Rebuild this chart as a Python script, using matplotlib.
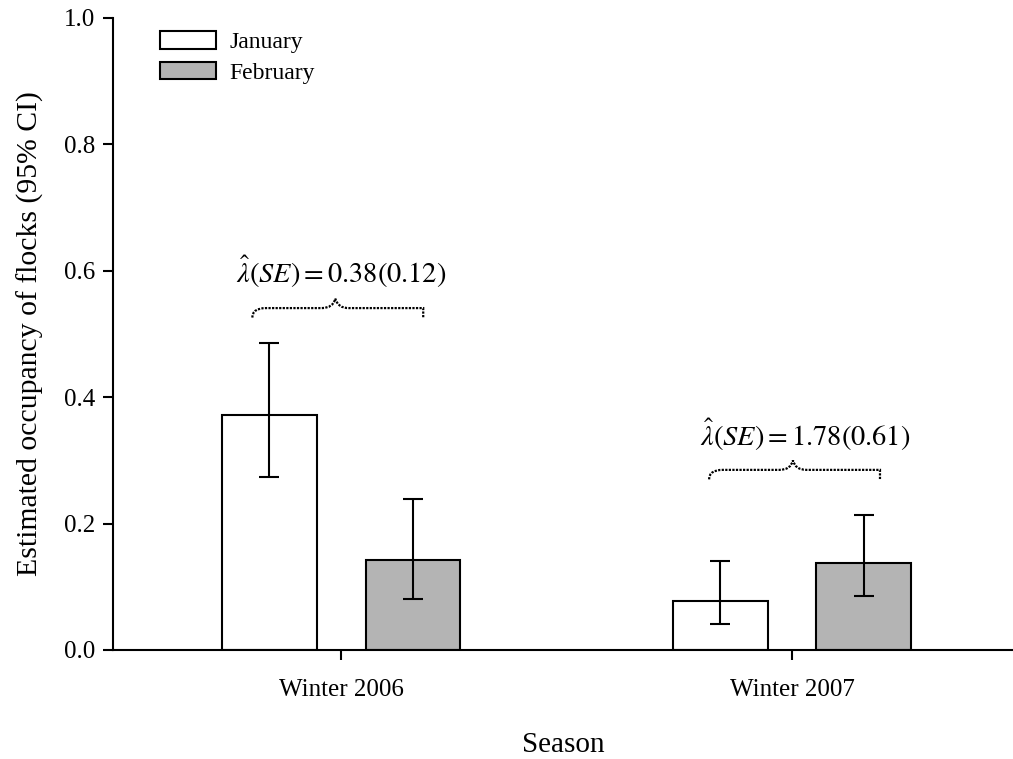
import matplotlib
matplotlib.use('Agg')
import matplotlib.pyplot as plt
from matplotlib.path import Path
from matplotlib.patches import PathPatch
import numpy as np

plt.rcParams['font.family'] = ['Liberation Serif', 'DejaVu Serif']
plt.rcParams['mathtext.fontset'] = 'stix'

seasons = ['Winter 2006', 'Winter 2007']
months = ['January', 'February']
occupancy = {'January': [0.372, 0.078], 'February': [0.142, 0.138]}
ci_low = {'January': [0.274, 0.041], 'February': [0.081, 0.086]}
ci_high = {'January': [0.486, 0.141], 'February': [0.239, 0.214]}
lambda_est = [0.38, 1.78]
lambda_se = [0.12, 0.61]

colors = {'January': 'white', 'February': '#b4b4b4'}
offsets = {'January': -0.159, 'February': 0.159}
bar_w = 0.21


def draw_brace(ax, x0, x1, tip, y, h):
    # curly brace opening downward, ends hooked, peak at tip
    q = h * 0.5
    verts = [(x0, y - q), (x0, y), (x0 + 0.03, y), (x0 + 0.06, y),
             (tip - 0.03, y), (tip - 0.005, y), (tip, y + q),
             (tip + 0.005, y), (tip + 0.03, y),
             (x1 - 0.06, y), (x1 - 0.03, y), (x1, y), (x1, y - q)]
    codes = [Path.MOVETO, Path.CURVE3, Path.CURVE3, Path.LINETO,
             Path.LINETO, Path.CURVE3, Path.CURVE3,
             Path.CURVE3, Path.CURVE3,
             Path.LINETO, Path.CURVE3, Path.CURVE3, Path.LINETO]
    ax.add_patch(PathPatch(Path(verts, codes), fill=False, lw=1.6,
                           ls=(0, (1, 0.6)), ec='black', capstyle='butt'))


fig = plt.figure(figsize=(10.13, 7.59), dpi=100)
ax = fig.add_axes([113 / 1013, 1 - 650 / 759, 900 / 1013, (650 - 18) / 759])

x = np.arange(len(seasons))
for m in months:
    vals = np.array(occupancy[m])
    lo = vals - np.array(ci_low[m])
    hi = np.array(ci_high[m]) - vals
    ax.bar(x + offsets[m], vals, width=bar_w, color=colors[m],
           edgecolor='black', linewidth=1.5, label=m, zorder=2)
    ax.errorbar(x + offsets[m], vals, yerr=[lo, hi], fmt='none',
                ecolor='black', elinewidth=1.5, capsize=7, capthick=1.5,
                zorder=3)

# lambda estimates over each season
brace_spans = [(-0.197, 0.182, -0.013, 0.541), (0.816, 1.195, 1.002, 0.285)]
text_pos = [(0.0, 0.598), (1.03, 0.34)]
for (x0, x1, tip, yb), (tx, ty), est, se in zip(brace_spans, text_pos,
                                                 lambda_est, lambda_se):
    draw_brace(ax, x0, x1, tip, yb, 0.03)
    ax.text(tx, ty, r'$\hat{\lambda}(SE) = %.2f(%.2f)$' % (est, se),
            ha='center', va='center', fontsize=20.4)

ax.set_xlim(-0.506, 1.49)
ax.set_ylim(0, 1.0)
ax.set_xticks(x)
ax.set_xticklabels(seasons, fontsize=18)
ax.set_yticks(np.arange(0, 1.01, 0.2))
ax.set_yticklabels(['%.1f' % v for v in np.arange(0, 1.01, 0.2)], fontsize=18)
ax.tick_params(axis='both', direction='out', length=7, width=1.5, pad=6)
ax.tick_params(axis='x', pad=14)
for s in ['top', 'right']:
    ax.spines[s].set_visible(False)
for s in ['left', 'bottom']:
    ax.spines[s].set_linewidth(1.5)

ax.set_xlabel('Season', fontsize=21, labelpad=22)
ax.set_ylabel('Estimated occupancy of flocks (95% CI)', fontsize=21.4,
              labelpad=14)

ax.legend(loc='upper left', bbox_to_anchor=(0.052, 0.979), frameon=False,
          fontsize=17, handlelength=2.4, handleheight=0.78,
          handletextpad=0.55, labelspacing=0.35, borderaxespad=0, borderpad=0)

fig.savefig('out.png', dpi=100)
